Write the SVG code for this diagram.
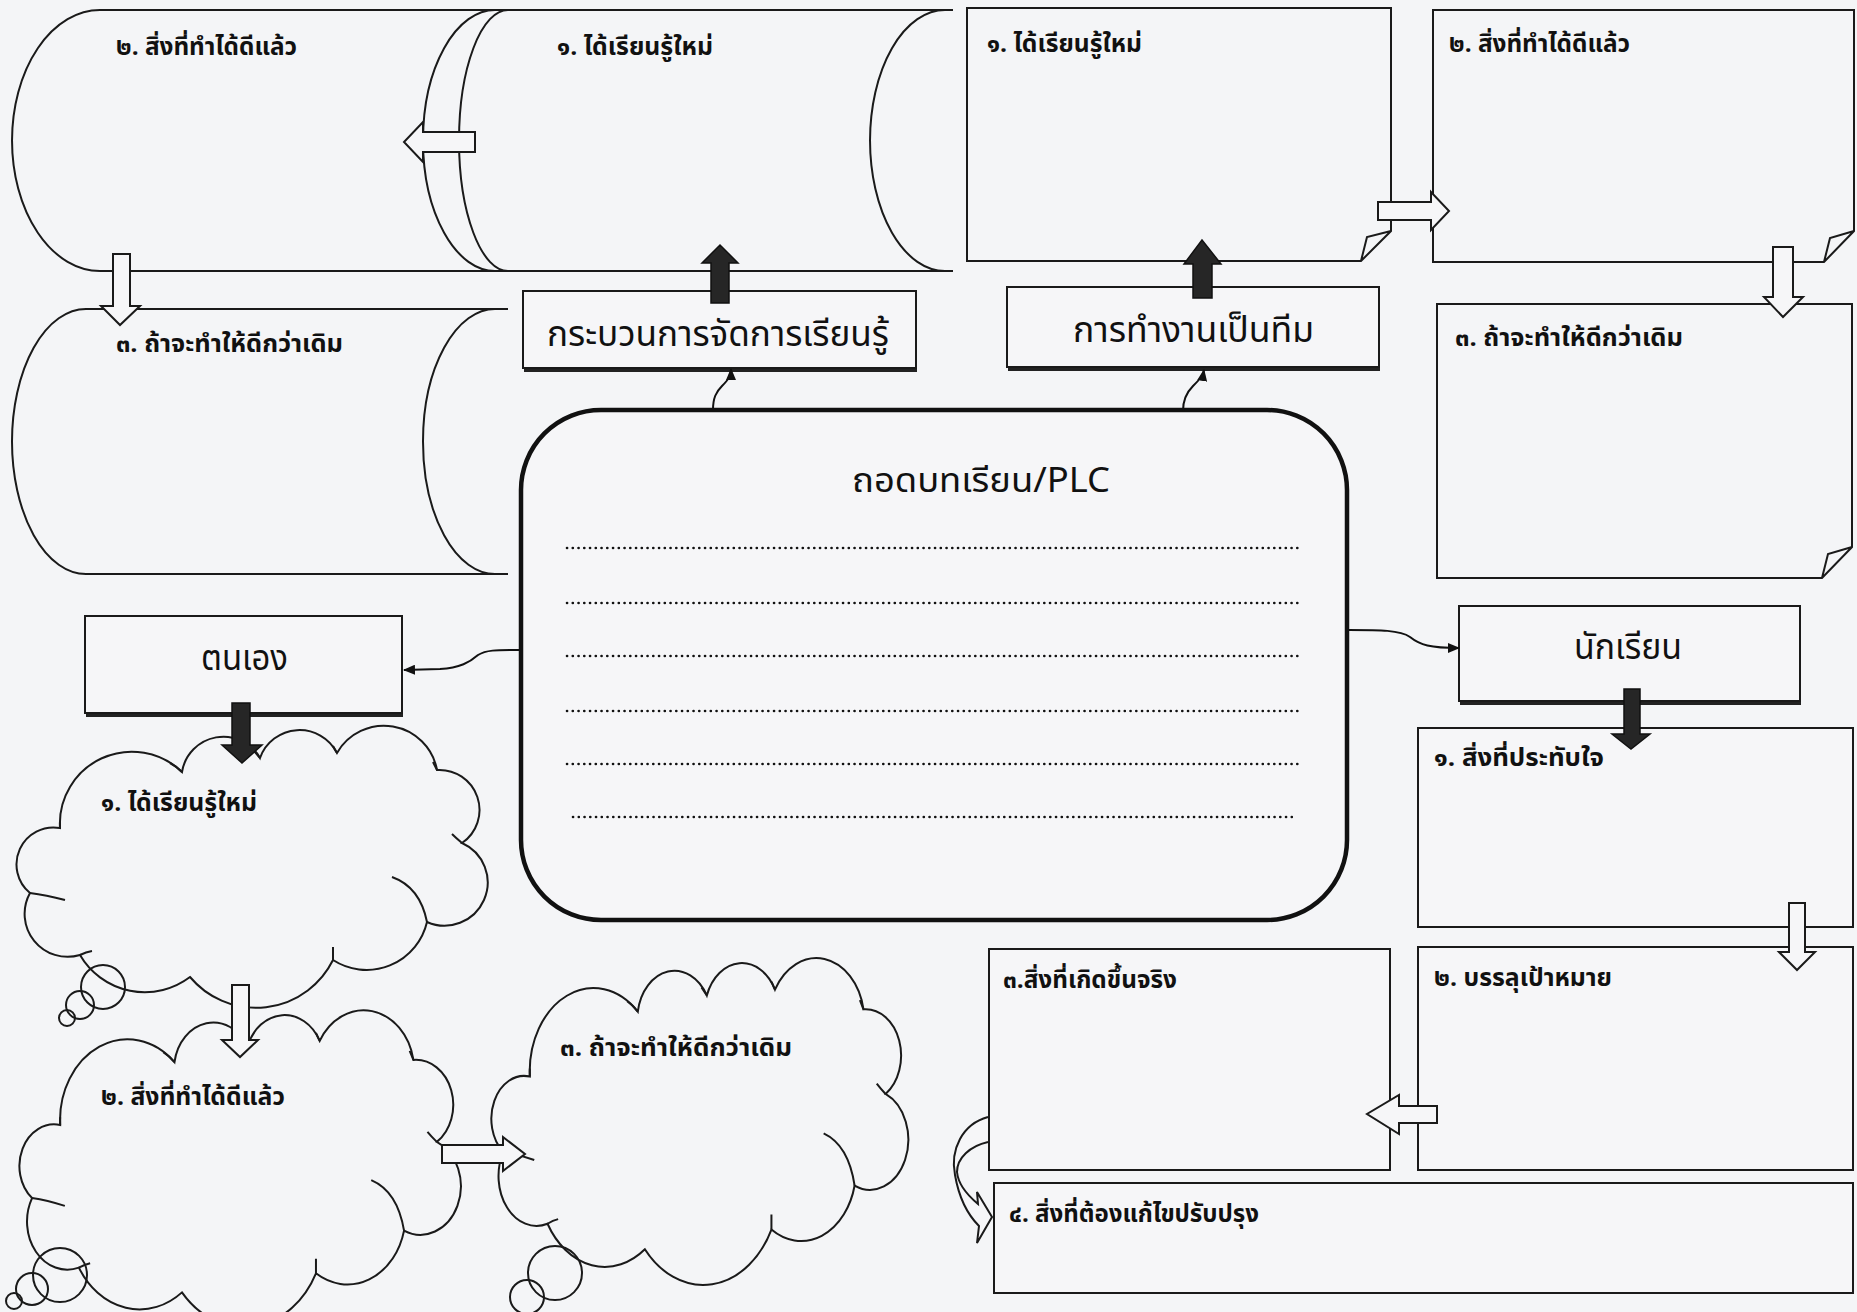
<svg xmlns="http://www.w3.org/2000/svg" xmlns:xlink="http://www.w3.org/1999/xlink" width="1857" height="1312" viewBox="0 0 1857 1312">
<style>
.ln{fill:none;stroke:#1a1a1a;stroke-width:2}
.bx{fill:#f6f6f8;stroke:#1a1a1a;stroke-width:2}
.sh{stroke:#222;stroke-width:4}
.ha{fill:#f6f6f8;stroke:#1a1a1a;stroke-width:2;stroke-linejoin:miter}
.ba{fill:#262626;stroke:#111;stroke-width:1.5}
.cn{fill:none;stroke:#111;stroke-width:2}
.dots{fill:none;stroke:#111;stroke-width:2.6;stroke-linecap:round;stroke-dasharray:0.1 5.65}
text{font-family:'Noto Sans Thai','Noto Sans Thai UI','Loma','Garuda','Sarabun','Tlwg Typo','Kinnari','Norasi','DejaVu Sans','Noto Sans',sans-serif;fill:#111}
.lbl{font-size:24px;font-weight:700}
.big{font-size:36px}
.ttl{font-size:34px}
</style>
<defs>
<marker id="ah" markerWidth="12" markerHeight="10" refX="11" refY="5" orient="auto" markerUnits="userSpaceOnUse"><path d="M0,0 L12,5 L0,10 z" fill="#111"/></marker>
<g id="cloudShape">
<path vector-effect="non-scaling-stroke" class="ln" d="M60,828 A72,72 0 0 1 182,772 A42,42 0 0 1 260,758 A42,42 0 0 1 337,753 A54,54 0 0 1 437,770 A40,40 0 0 1 462,843 A43,43 0 0 1 427,922 A62,62 0 0 1 333,960 A86,86 0 0 1 190,977 A75,75 0 0 1 80,955 A43,43 0 0 1 30,893 A37,37 0 0 1 60,828 Z"/>
<path vector-effect="non-scaling-stroke" class="ln" d="M30,893 Q46,895 65,900 M80,955 Q86,952 92,951 M333,960 L333,947 M427,922 Q420,887 392,877 M462,843 Q456,838 452,834 M437,770 L433,762 M337,753 L333,746 M260,758 L254,751 M182,772 Q176,766 170,763 M60,828 L60,821"/>
</g>
</defs>
<rect x="0" y="0" width="1857" height="1312" fill="#f4f5f7"/>

<g id="cyl-top-left">
<path class="ln" d="M100,10 L500,10 M100,271 L500,271 M100,10 A88,130.5 0 0 0 100,271 M495,10 A72,130.5 0 0 0 495,271"/>
<text class="lbl" x="116" y="55" textLength="181" lengthAdjust="spacingAndGlyphs">๒. สิ่งที่ทำได้ดีแล้ว</text>
</g>
<g id="cyl-top-mid">
<path class="ln" d="M500,10 L953,10 M500,271 L953,271 M508,10 A49,130.5 0 0 0 508,271 M945,10 A75,130.5 0 0 0 945,271"/>
<text class="lbl" x="557" y="55" textLength="156" lengthAdjust="spacingAndGlyphs">๑. ได้เรียนรู้ใหม่</text>
</g>
<g id="cyl-lower-left">
<path class="ln" d="M86,309 L508,309 M86,574 L508,574 M86,309 A74,132.5 0 0 0 86,574 M495,309 A72,132.5 0 0 0 495,574"/>
<text class="lbl" x="116" y="352" textLength="227" lengthAdjust="spacingAndGlyphs">๓. ถ้าจะทำให้ดีกว่าเดิม</text>
</g>

<g id="box-process">
<line class="sh" x1="524" y1="370" x2="917" y2="370"/>
<rect class="bx" x="523" y="291" width="393" height="77"/>
<text class="big" x="547" y="346" textLength="342" lengthAdjust="spacingAndGlyphs">กระบวนการจัดการเรียนรู้</text>
</g>
<g id="box-team">
<line class="sh" x1="1008" y1="369" x2="1380" y2="369"/>
<rect class="bx" x="1007" y="287" width="372" height="80"/>
<text class="big" x="1073" y="342" textLength="241" lengthAdjust="spacingAndGlyphs">การทำงานเป็นทีม</text>
</g>

<g id="note-tr1">
<path class="ln" d="M967,8 L1391,8 L1391,231 L1361,261 L967,261 Z M1361,261 L1367,237 L1391,231"/>
<text class="lbl" x="987" y="52" textLength="155" lengthAdjust="spacingAndGlyphs">๑. ได้เรียนรู้ใหม่</text>
</g>
<g id="note-tr2">
<path class="ln" d="M1433,10 L1854,10 L1854,231 L1824,262 L1433,262 Z M1824,262 L1830,238 L1854,231"/>
<text class="lbl" x="1449" y="52" textLength="181" lengthAdjust="spacingAndGlyphs">๒. สิ่งที่ทำได้ดีแล้ว</text>
</g>
<g id="note-tr3">
<path class="ln" d="M1437,304 L1852,304 L1852,547 L1822,578 L1437,578 Z M1822,578 L1828,554 L1852,547"/>
<text class="lbl" x="1455" y="346" textLength="228" lengthAdjust="spacingAndGlyphs">๓. ถ้าจะทำให้ดีกว่าเดิม</text>
</g>

<g id="central">
<rect x="521" y="410" width="826" height="510" rx="80" ry="80" fill="#f6f6f8" stroke="#111" stroke-width="4.5"/>
<text class="ttl" x="852" y="492" textLength="258" lengthAdjust="spacingAndGlyphs">ถอดบทเรียน/PLC</text>
<path class="dots" d="M567,548 L1303,548 M567,603 L1303,603 M567,656 L1303,656 M567,711 L1303,711 M567,764 L1303,764 M573,817 L1297,817"/>
</g>

<g id="box-self">
<line class="sh" x1="86" y1="715" x2="403" y2="715"/>
<rect class="bx" x="85" y="616" width="317" height="97"/>
<text class="big" x="201" y="670" textLength="87" lengthAdjust="spacingAndGlyphs">ตนเอง</text>
</g>
<g id="cloud-1">
<use xlink:href="#cloudShape" href="#cloudShape"/>
<circle class="ln" cx="103" cy="987" r="22"/>
<circle class="ln" cx="80" cy="1005" r="14"/>
<circle class="ln" cx="67" cy="1018" r="8"/>
<text class="lbl" x="101" y="811" textLength="156" lengthAdjust="spacingAndGlyphs">๑. ได้เรียนรู้ใหม่</text>
</g>
<g id="cloud-2">
<use xlink:href="#cloudShape" href="#cloudShape" transform="translate(18,1015) scale(0.937,1.123) translate(-15,-730)"/>
<circle class="ln" cx="60" cy="1275" r="27"/>
<circle class="ln" cx="32" cy="1289" r="16"/>
<circle class="ln" cx="14" cy="1301" r="8"/>
<text class="lbl" x="101" y="1105" textLength="184" lengthAdjust="spacingAndGlyphs">๒. สิ่งที่ทำได้ดีแล้ว</text>
</g>
<g id="cloud-3">
<use xlink:href="#cloudShape" href="#cloudShape" transform="translate(490,963) scale(0.885,1.159) translate(-15,-730)"/>
<circle class="ln" cx="555" cy="1273" r="27"/>
<circle class="ln" cx="527" cy="1297" r="17"/>
<text class="lbl" x="560" y="1056" textLength="232" lengthAdjust="spacingAndGlyphs">๓. ถ้าจะทำให้ดีกว่าเดิม</text>
</g>

<g id="box-students">
<line class="sh" x1="1460" y1="703" x2="1801" y2="703"/>
<rect class="bx" x="1459" y="606" width="341" height="95"/>
<text class="big" x="1574" y="659" textLength="108" lengthAdjust="spacingAndGlyphs">นักเรียน</text>
</g>
<g id="box-s1">
<rect class="bx" x="1418" y="728" width="435" height="199"/>
<text class="lbl" x="1434" y="766" textLength="170" lengthAdjust="spacingAndGlyphs">๑. สิ่งที่ประทับใจ</text>
</g>
<g id="box-s2">
<rect class="bx" x="1418" y="947" width="435" height="223"/>
<text class="lbl" x="1434" y="986" textLength="178" lengthAdjust="spacingAndGlyphs">๒. บรรลุเป้าหมาย</text>
</g>
<g id="box-s3">
<rect class="bx" x="989" y="949" width="401" height="221"/>
<text class="lbl" x="1003" y="988" textLength="174" lengthAdjust="spacingAndGlyphs">๓.สิ่งที่เกิดขึ้นจริง</text>
</g>
<g id="box-s4">
<rect class="bx" x="994" y="1183" width="859" height="110"/>
<text class="lbl" x="1009" y="1222" textLength="250" lengthAdjust="spacingAndGlyphs">๔. สิ่งที่ต้องแก้ไขปรับปรุง</text>
</g>

<g id="connectors">
<path class="cn" marker-end="url(#ah)" d="M713,410 C713,398 716,392 722,386 C728,380 731,376 731,369"/>
<path class="cn" marker-end="url(#ah)" d="M1183,411 C1183,399 1187,392 1193,386 C1199,380 1203,376 1204,370"/>
<path class="cn" marker-end="url(#ah)" d="M519,650 C495,650 486,650 478,655 C470,662 460,668 440,669 L404,670"/>
<path class="cn" marker-end="url(#ah)" d="M1349,630 C1380,630 1400,630 1410,637 C1420,645 1430,648 1459,648"/>
<polygon class="ha" points="475,132 423,132 423,122 404,142 423,162 423,152 475,152"/>
<polygon class="ha" points="113,254 130,254 130,306 140,306 120,325 101,306 113,306"/>
<polygon class="ba" points="711,303 711,263 702,263 720,245 738,263 729,263 729,303"/>
<polygon class="ba" points="1193,298 1193,264 1184,264 1202,240 1221,264 1212,264 1212,298"/>
<polygon class="ha" points="1378,202 1431,202 1431,192 1449,211 1431,230 1431,220 1378,220"/>
<polygon class="ha" points="1773,247 1793,247 1793,297 1803,297 1783,317 1764,297 1773,297"/>
<polygon class="ba" points="232,703 250,703 250,745 262,745 242,763 222,745 232,745"/>
<polygon class="ha" points="232,985 249,985 249,1040 258,1040 240,1057 222,1040 232,1040"/>
<polygon class="ha" points="442,1145 503,1145 503,1137 525,1154 503,1171 503,1163 442,1163"/>
<polygon class="ba" points="1624,689 1640,689 1640,734 1650,734 1631,749 1612,734 1624,734"/>
<polygon class="ha" points="1789,903 1805,903 1805,952 1815,952 1797,970 1779,952 1789,952"/>
<polygon class="ha" points="1437,1106 1399,1106 1399,1095 1367,1114 1399,1134 1399,1123 1437,1123"/>
<path class="ha" d="M988,1117 C962,1124 950,1150 955,1175 C959,1198 968,1215 979,1226 L977,1243 L992,1217 L977,1192 L978,1204 C966,1194 958,1183 957,1172 C957,1158 970,1146 988,1142"/>
</g>
</svg>
